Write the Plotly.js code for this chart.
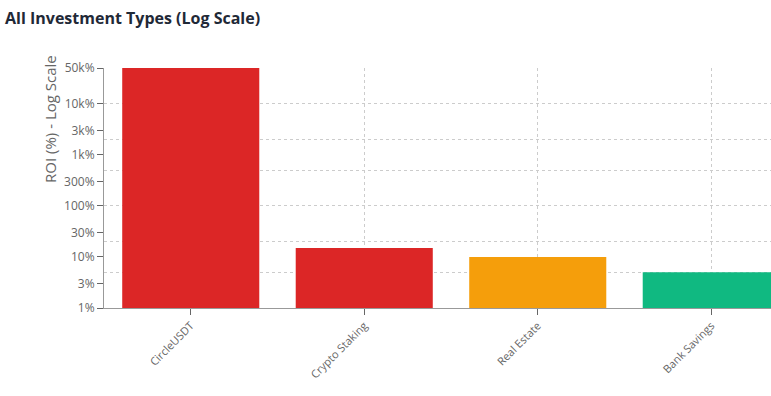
<!DOCTYPE html>
<html>
<head>
<meta charset="utf-8">
<script src="https://cdn.plot.ly/plotly-3.0.1.min.js"></script>
<style>
html,body{margin:0;padding:0;background:#fff;overflow:hidden;}
#chart{width:771px;height:396px;}
</style>
</head>
<body>
<div id="chart"></div>
<script>
const categories = ["CircleUSDT", "Crypto Staking", "Real Estate", "Bank Savings"];
const roiValues = [50000, 15, 10, 5];
const barColors = ["#dc2626", "#dc2626", "#f59e0b", "#10b981"];
const tickValues = [1, 3, 10, 30, 100, 300, 1000, 3000, 10000, 50000];
const tickLabels = ["1%", "3%", "10%", "30%", "100%", "300%", "1k%", "3k%", "10k%", "50k%"];
const gridValues = [5, 20, 100, 500, 2000, 10000, 50000];

const logMin = 0, logMax = Math.log10(50000);
const fontFam = "'Open Sans', 'Noto Sans', sans-serif";

const bars = {
  type: "bar",
  x: categories,
  y: roiValues,
  marker: {color: barColors, line: {width: 0}},
  hoverinfo: "x+y",
  yaxis: "y"
};
// invisible helper so the labelled overlay axis is drawn
const helper = {
  type: "scatter",
  mode: "markers",
  x: categories,
  y: roiValues,
  marker: {opacity: 0, size: 1},
  hoverinfo: "skip",
  yaxis: "y2"
};

const layout = {
  width: 771,
  height: 396,
  margin: {l: 104, r: 0, t: 68, b: 88, pad: 0},
  paper_bgcolor: "#fff",
  plot_bgcolor: "#fff",
  showlegend: false,
  bargap: 0.21,
  font: {family: fontFam, color: "#666", size: 12},
  title: {
    text: "<b>All Investment Types (Log Scale)</b>",
    x: 5/771, xref: "container", xanchor: "left",
    y: 1 - 18/396, yref: "container", yanchor: "middle",
    font: {family: fontFam, size: 16, color: "#1f2937"}
  },
  xaxis: {
    type: "category",
    range: [-0.5, -0.5 + 667/173.5],
    showgrid: true,
    gridcolor: "#ccc",
    griddash: "3px,3px",
    gridwidth: 1,
    showline: true,
    linecolor: "#999",
    linewidth: 1,
    ticks: "outside",
    ticklen: 6,
    tickcolor: "#666",
    tickangle: -45,
    tickfont: {size: 11, color: "#666"},
    zeroline: false,
    fixedrange: true
  },
  yaxis: {
    type: "log",
    range: [logMin, logMax],
    tickmode: "array",
    tickvals: gridValues,
    showticklabels: false,
    ticks: "",
    showgrid: true,
    gridcolor: "#ccc",
    griddash: "3px,3px",
    gridwidth: 1,
    showline: false,
    zeroline: false,
    fixedrange: true
  },
  yaxis2: {
    type: "log",
    overlaying: "y",
    side: "left",
    anchor: "x",
    range: [logMin, logMax],
    tickmode: "array",
    tickvals: tickValues,
    ticktext: tickLabels,
    ticks: "outside",
    ticklen: 6,
    tickcolor: "#666",
    tickfont: {size: 12, color: "#666"},
    showgrid: false,
    showline: true,
    linecolor: "#999",
    linewidth: 1,
    zeroline: false,
    fixedrange: true
  },
  annotations: [{
    text: "ROI (%) - Log Scale",
    xref: "paper", yref: "paper",
    x: (50 - 104)/667, y: (308 - 119)/240,
    xanchor: "center", yanchor: "middle",
    textangle: -90,
    showarrow: false,
    font: {family: fontFam, size: 15, color: "#666"}
  }]
};

Plotly.newPlot("chart", [bars, helper], layout, {displayModeBar: false, staticPlot: true});
</script>
</body>
</html>
